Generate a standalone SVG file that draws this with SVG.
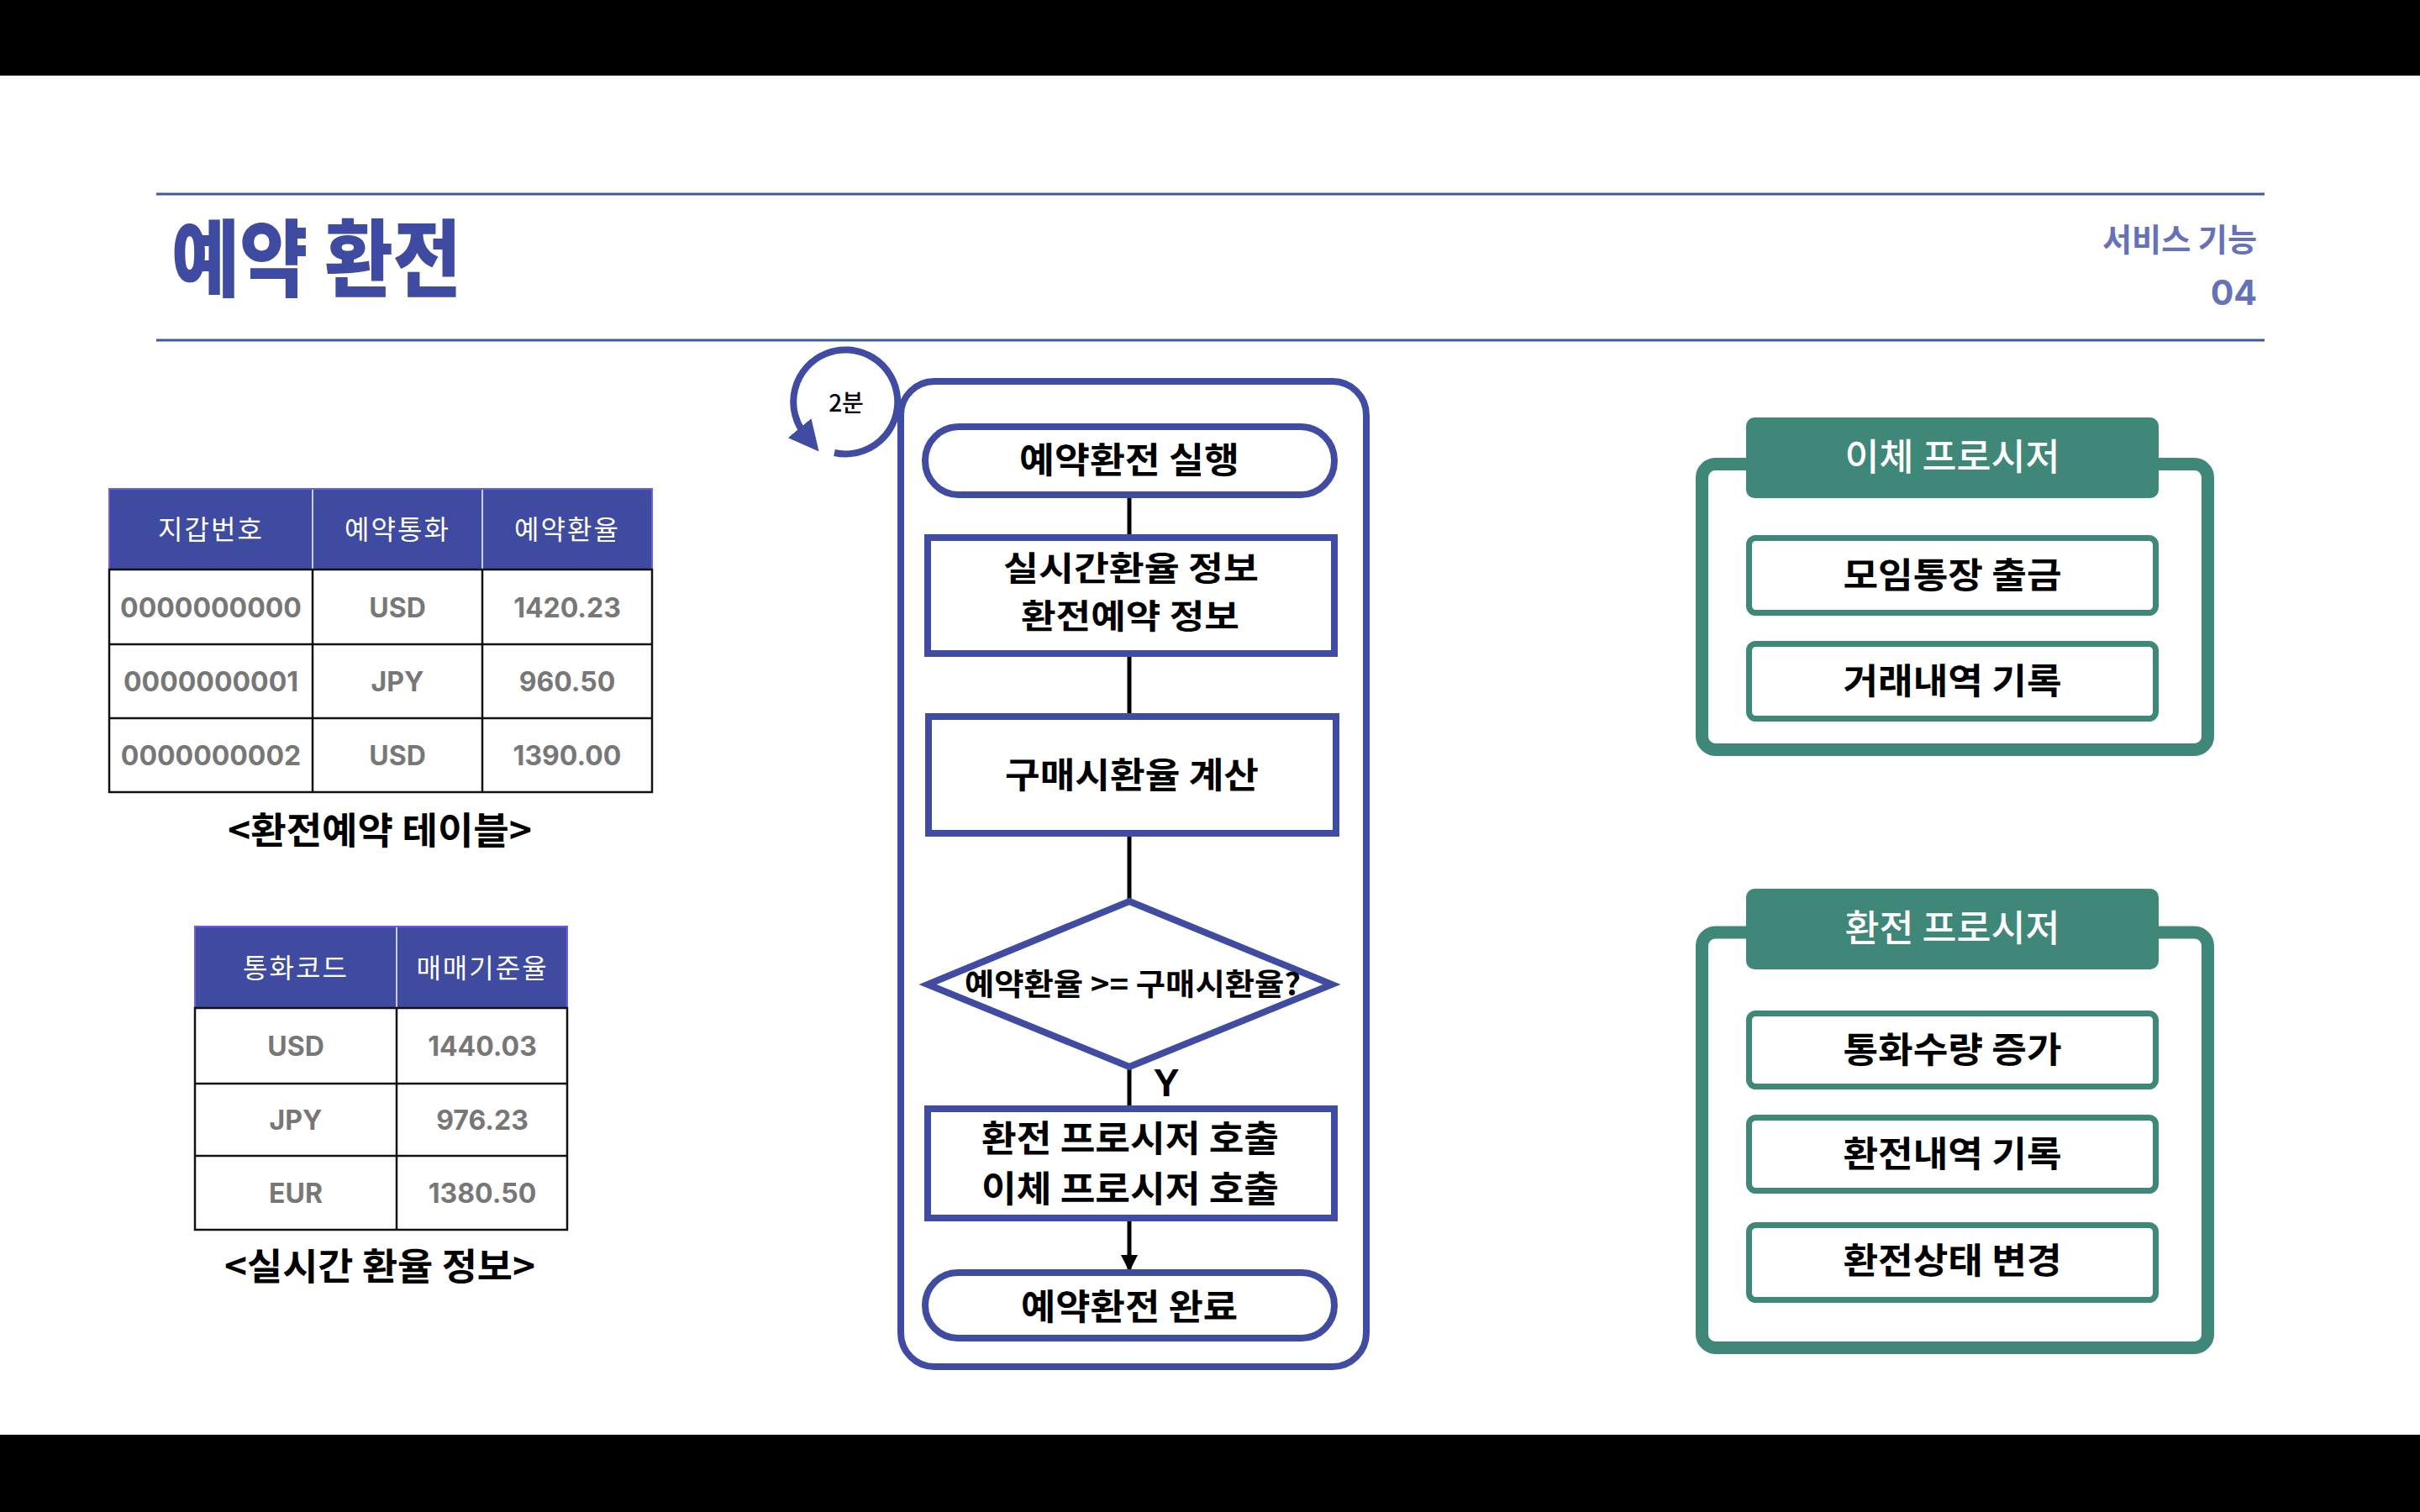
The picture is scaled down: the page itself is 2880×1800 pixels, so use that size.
<svg xmlns="http://www.w3.org/2000/svg" width="2880" height="1800" viewBox="0 0 2880 1800">
<defs>
<style>
.kr{font-family:"Noto Sans CJK KR","Noto Sans",sans-serif}
.lbl{font-family:"Noto Sans CJK KR",sans-serif;font-weight:700;fill:#000;text-anchor:middle}
.th{font-family:"Noto Sans CJK KR",sans-serif;font-weight:400;fill:#fff;text-anchor:middle;font-size:32px;letter-spacing:2px}
.td{font-family:Inter,"Noto Sans",sans-serif;font-weight:700;fill:#777;text-anchor:middle;font-size:32px}
.fb{fill:#fff;stroke:#3f4ca1;stroke-width:8}
.conn{stroke:#000;stroke-width:5;fill:none}
.panel{fill:#fff;stroke:#3f8778;stroke-width:15}
.tab{fill:#3f8778}
.item{fill:#fff;stroke:#3f8778;stroke-width:7}
.tabt{font-family:"Noto Sans CJK KR",sans-serif;font-weight:500;fill:#fff;text-anchor:middle;font-size:44px}
.grid{stroke:#111;stroke-width:2.5;fill:none}
</style>
<marker id="arr" viewBox="0 0 10 10" refX="9" refY="5" markerWidth="4" markerHeight="4" orient="auto" markerUnits="strokeWidth">
<path d="M0,0 L10,5 L0,10 z" fill="#000"/>
</marker>
<marker id="cyc" viewBox="0 0 10 10" refX="3" refY="5" markerWidth="4.5" markerHeight="4.5" orient="auto" markerUnits="strokeWidth">
<path d="M0,0 L10,5 L0,10 z" fill="#3f4ca1"/>
</marker>
</defs>
<rect x="0" y="0" width="2880" height="1800" fill="#fff"/>
<rect x="0" y="0" width="2880" height="90" fill="#000"/>
<rect x="0" y="1708" width="2880" height="92" fill="#000"/>

<g id="header">
<line x1="186" y1="231" x2="2695" y2="231" stroke="#3c5b99" stroke-width="3"/>
<line x1="186" y1="405" x2="2695" y2="405" stroke="#3c5b99" stroke-width="3"/>
<text x="204" y="345" class="kr" font-size="100" font-weight="900" fill="#3f4ba0" textLength="345" lengthAdjust="spacingAndGlyphs">예약 환전</text>
<text x="2686" y="299" class="kr" font-size="38" font-weight="700" fill="#6571b8" text-anchor="end" textLength="184" lengthAdjust="spacingAndGlyphs">서비스 기능</text>
<text x="2686" y="363" font-family="Inter,'Noto Sans',sans-serif" font-size="41" font-weight="700" fill="#6571b8" text-anchor="end">04</text>
</g>

<g id="table-reservation">
<rect x="130" y="582" width="646" height="96" fill="#3f4ba0" stroke="#6c5ce7" stroke-width="2"/>
<line x1="372" y1="583" x2="372" y2="678" stroke="#c9cdee" stroke-width="2"/>
<line x1="574" y1="583" x2="574" y2="678" stroke="#c9cdee" stroke-width="2"/>
<text x="251" y="642" class="th">지갑번호</text>
<text x="473" y="642" class="th">예약통화</text>
<text x="675" y="642" class="th">예약환율</text>
<rect x="130" y="678" width="646" height="265" class="grid"/>
<line x1="130" y1="767" x2="776" y2="767" class="grid"/>
<line x1="130" y1="855" x2="776" y2="855" class="grid"/>
<line x1="372" y1="678" x2="372" y2="943" class="grid"/>
<line x1="574" y1="678" x2="574" y2="943" class="grid"/>
<text x="251" y="735" class="td">0000000000</text>
<text x="473" y="735" class="td">USD</text>
<text x="675" y="735" class="td">1420.23</text>
<text x="251" y="823" class="td">0000000001</text>
<text x="473" y="823" class="td">JPY</text>
<text x="675" y="823" class="td">960.50</text>
<text x="251" y="911" class="td">0000000002</text>
<text x="473" y="911" class="td">USD</text>
<text x="675" y="911" class="td">1390.00</text>
<text x="452" y="1005" class="lbl" font-size="44" textLength="362" lengthAdjust="spacingAndGlyphs">&lt;환전예약 테이블&gt;</text>
</g>

<g id="table-rate">
<rect x="232" y="1103" width="443" height="97" fill="#3f4ba0" stroke="#6c5ce7" stroke-width="2"/>
<line x1="472" y1="1104" x2="472" y2="1200" stroke="#c9cdee" stroke-width="2"/>
<text x="352" y="1164" class="th">통화코드</text>
<text x="574" y="1164" class="th">매매기준율</text>
<rect x="232" y="1200" width="443" height="264" class="grid"/>
<line x1="232" y1="1290" x2="675" y2="1290" class="grid"/>
<line x1="232" y1="1376" x2="675" y2="1376" class="grid"/>
<line x1="472" y1="1200" x2="472" y2="1464" class="grid"/>
<text x="352" y="1257" class="td">USD</text>
<text x="574" y="1257" class="td">1440.03</text>
<text x="352" y="1345" class="td">JPY</text>
<text x="574" y="1345" class="td">976.23</text>
<text x="352" y="1432" class="td">EUR</text>
<text x="574" y="1432" class="td">1380.50</text>
<text x="452" y="1524" class="lbl" font-size="44" textLength="370" lengthAdjust="spacingAndGlyphs">&lt;실시간 환율 정보&gt;</text>
</g>

<g id="flow-frame">
<rect x="1072" y="454" width="554" height="1173" rx="40" fill="none" stroke="#3f4ca1" stroke-width="8"/>
</g>

<g id="cycle">
<path d="M993,539 A62,62 0 1 0 958.5,518" fill="none" stroke="#3f4ca1" stroke-width="8" marker-end="url(#cyc)"/>
<text x="1007" y="490" class="kr" font-size="28" font-weight="500" fill="#000" text-anchor="middle">2분</text>
</g>

<g id="connectors">
<line x1="1344" y1="589" x2="1344" y2="640" class="conn"/>
<line x1="1344" y1="778" x2="1344" y2="853" class="conn"/>
<line x1="1344" y1="992" x2="1344" y2="1073" class="conn"/>
<line x1="1344" y1="1270" x2="1344" y2="1320" class="conn"/>
<line x1="1344" y1="1450" x2="1344" y2="1512" class="conn" stroke-width="4" marker-end="url(#arr)"/>
<text x="1388" y="1305" font-family="'Liberation Sans',Arial,sans-serif" font-weight="700" font-size="46" fill="#000" text-anchor="middle">Y</text>
</g>

<g id="start">
<rect x="1101" y="508" width="487" height="81" rx="40" class="fb"/>
<text x="1344" y="563" class="lbl" font-size="42" textLength="262" lengthAdjust="spacingAndGlyphs">예약환전 실행</text>
</g>

<g id="load-info">
<rect x="1104" y="640" width="484" height="138" class="fb"/>
<text x="1346" y="691" class="lbl" font-size="40" textLength="304" lengthAdjust="spacingAndGlyphs">실시간환율 정보</text>
<text x="1345" y="748" class="lbl" font-size="40" textLength="260" lengthAdjust="spacingAndGlyphs">환전예약 정보</text>
</g>

<g id="calc">
<rect x="1105" y="853" width="485" height="139" class="fb"/>
<text x="1347" y="938" class="lbl" font-size="42" textLength="302" lengthAdjust="spacingAndGlyphs">구매시환율 계산</text>
</g>

<g id="decision">
<polygon points="1344,1073 1585,1172 1344,1270 1104,1172" class="fb"/>
<text x="1348" y="1185" class="lbl" font-size="36" font-weight="500" textLength="400" lengthAdjust="spacingAndGlyphs">예약환율 &gt;= 구매시환율?</text>
</g>

<g id="call-procs">
<rect x="1104" y="1320" width="484" height="130" class="fb"/>
<text x="1345" y="1371" class="lbl" font-size="43" textLength="354" lengthAdjust="spacingAndGlyphs">환전 프로시저 호출</text>
<text x="1345" y="1431" class="lbl" font-size="43" textLength="354" lengthAdjust="spacingAndGlyphs">이체 프로시저 호출</text>
</g>

<g id="end">
<rect x="1101" y="1515" width="487" height="78" rx="39" class="fb"/>
<text x="1344" y="1571" class="lbl" font-size="42" textLength="258" lengthAdjust="spacingAndGlyphs">예약환전 완료</text>
</g>

<g id="transfer-proc">
<rect x="2025.5" y="552.5" width="602" height="340" rx="16" class="panel"/>
<rect x="2078" y="497" width="491" height="96" rx="10" class="tab"/>
<text x="2323.5" y="560" class="tabt" textLength="256" lengthAdjust="spacingAndGlyphs">이체 프로시저</text>
<rect x="2081.5" y="640.5" width="484" height="89" rx="8" class="item"/>
<text x="2323.5" y="700" class="lbl" font-size="42" textLength="260" lengthAdjust="spacingAndGlyphs">모임통장 출금</text>
<rect x="2081.5" y="766.5" width="484" height="89" rx="8" class="item"/>
<text x="2323.5" y="826" class="lbl" font-size="42" textLength="260" lengthAdjust="spacingAndGlyphs">거래내역 기록</text>
</g>

<g id="exchange-proc">
<rect x="2025.5" y="1110" width="602" height="494.5" rx="16" class="panel"/>
<rect x="2078" y="1058" width="491" height="96" rx="10" class="tab"/>
<text x="2323.5" y="1121" class="tabt" textLength="256" lengthAdjust="spacingAndGlyphs">환전 프로시저</text>
<rect x="2081.5" y="1206.5" width="484" height="87" rx="8" class="item"/>
<text x="2323.5" y="1265" class="lbl" font-size="42" textLength="260" lengthAdjust="spacingAndGlyphs">통화수량 증가</text>
<rect x="2081.5" y="1330.5" width="484" height="87" rx="8" class="item"/>
<text x="2323.5" y="1389" class="lbl" font-size="42" textLength="260" lengthAdjust="spacingAndGlyphs">환전내역 기록</text>
<rect x="2081.5" y="1458.5" width="484" height="89" rx="8" class="item"/>
<text x="2323.5" y="1516" class="lbl" font-size="42" textLength="260" lengthAdjust="spacingAndGlyphs">환전상태 변경</text>
</g>
</svg>
